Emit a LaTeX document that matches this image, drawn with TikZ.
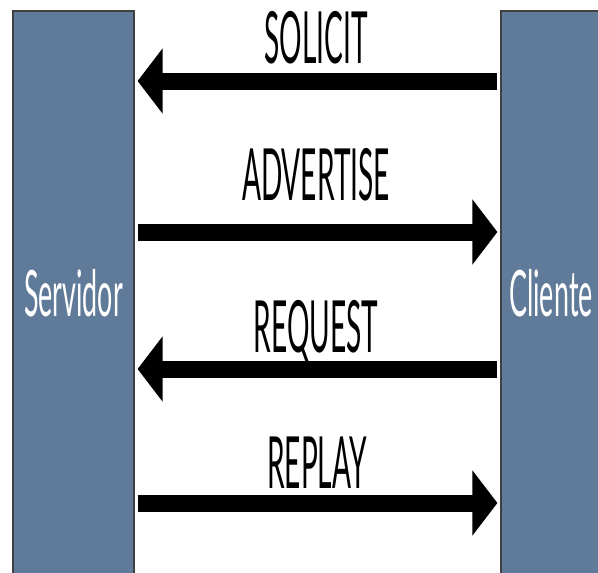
\documentclass[tikz,border=0pt]{standalone}
\usepackage{fontspec}
\setmainfont{Lato}
\usepackage{graphicx}
\usetikzlibrary{arrows.meta, positioning}
\definecolor{barblue}{RGB}{96,122,153}
\newcommand{\narrow}[1]{\scalebox{0.42}[1]{#1}}
\newcommand{\slim}[1]{\scalebox{0.39}[1]{#1}}
\tikzset{bar/.style = {draw = black!75, line width = 1.2pt, fill = barblue,
                       minimum width = 121pt, minimum height = 564pt,
                       inner sep = 0pt, text = white,
                       font = \fontsize{64}{70}\selectfont},
         msg/.style = {line width = 17pt,
                       -{Triangle[width = 64pt, length = 25pt]},
                       shorten >= 3pt, shorten <= 3pt},
         lbl/.style = {anchor = base, inner sep = 0pt,
                       font = \fontsize{72}{80}\selectfont}}

\begin{document}
\begin{tikzpicture}[x = 1pt, y = -1pt]
        \useasboundingbox (0,0) rectangle (598,573);

        \node[bar]                   (srv) at (73.5,293)   {\narrow{Servidor}};
        \node[bar, minimum width = 100pt] (cli) at (551,293) {\narrow{Cliente}};

        \coordinate (y1) at (300,81);
        \coordinate (y2) at (300,232);
        \coordinate (y3) at (300,369);
        \coordinate (y4) at (300,503);

        \node[lbl]  (solicit)   at (316,63)  {\slim{SOLICIT}};
        \node[lbl]  (advertise) at (316,200) {\slim{ADVERTISE}};
        \node[lbl]  (request)   at (316,352) {\slim{REQUEST}};
        \node[lbl]  (replay)    at (317,488) {\slim{REPLAY}};

        \draw[msg]  (cli.west |- y1) -- (srv.east |- y1);
        \draw[msg]  (srv.east |- y2) -- (cli.west |- y2);
        \draw[msg]  (cli.west |- y3) -- (srv.east |- y3);
        \draw[msg]  (srv.east |- y4) -- (cli.west |- y4);
    \end{tikzpicture}
\end{document}
